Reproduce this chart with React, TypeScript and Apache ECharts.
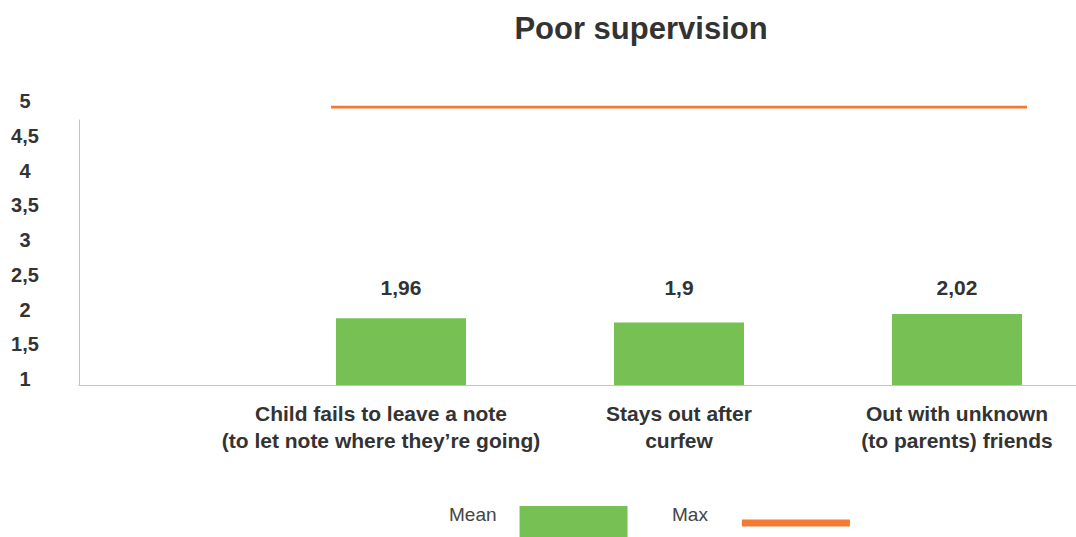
import React, { useEffect, useRef } from "react";
import * as echarts from "echarts";

const titleText = "Poor supervision";
const categories = [
  "Child fails to leave a note\n(to let note where they’re going)",
  "Stays out after\ncurfew",
  "Out with unknown\n(to parents) friends",
];
const meanValues = [1.96, 1.9, 2.02];
const maxValues = [5, 5, 5];
const yMin = 1;
const yMax = 5;
const yStep = 0.5;

const GREEN = "#77c154";
const ORANGE = "#f37a33";
const TEXT = "#333333";
const AXIS = "#c4c4c4";
const FONT = "'Liberation Sans', Arial, Helvetica, sans-serif";

const commaNumber = (v: number) => String(v).replace(".", ",");

export default function App() {
  const ref = useRef<HTMLDivElement>(null);

  useEffect(() => {
    if (!ref.current) return;
    const chart = echarts.init(ref.current, undefined, { renderer: "svg" });

    const gridTop = 107;
    const gridBottom = 152;

    const legendText = (padRight: number, padBottom: number) => ({
      fontFamily: FONT,
      fontSize: 19,
      color: "#444",
      rich: {
        t: {
          fontFamily: FONT,
          fontSize: 19,
          color: "#444",
          padding: [0, padRight, padBottom, 0],
        },
      },
    });

    chart.setOption({
      animation: false,
      backgroundColor: "#ffffff",
      textStyle: { fontFamily: FONT },
      title: {
        text: titleText,
        left: 636,
        top: 8,
        textAlign: "center",
        textStyle: { fontFamily: FONT, fontSize: 31, fontWeight: "bold", color: TEXT },
      },
      legend: [
        {
          data: [{ name: "Mean", icon: "rect" }],
          left: 449,
          top: 505,
          padding: 0,
          align: "right",
          itemWidth: 108,
          itemHeight: 31,
          selectedMode: false,
          formatter: (n: string) => `{t|${n}}`,
          textStyle: legendText(18, 14),
        },
        {
          data: [{ name: "Max", icon: "rect" }],
          left: 672,
          top: 505,
          padding: 0,
          align: "right",
          itemWidth: 108,
          itemHeight: 7,
          selectedMode: false,
          formatter: (n: string) => `{t|${n}}`,
          textStyle: legendText(29, 17),
        },
      ],
      grid: [
        // frame: the visible axis lines
        { left: 79, top: 120, width: 1020, bottom: gridBottom },
        // bars and value labels
        { left: 262, top: gridTop, width: 834, bottom: gridBottom },
        // max line
        { left: 331, top: gridTop, width: 696, bottom: gridBottom },
      ],
      xAxis: [
        {
          gridIndex: 0,
          type: "category",
          data: [""],
          axisLine: { show: true, lineStyle: { color: AXIS, width: 1 } },
          axisTick: { show: false },
          axisLabel: { show: false },
        },
        {
          gridIndex: 1,
          type: "category",
          data: categories.map((c, i) =>
            i === 0 ? { value: c, textStyle: { padding: [0, 40, 0, 0] } } : c
          ),
          boundaryGap: true,
          axisLine: { show: false },
          axisTick: { show: false },
          axisLabel: {
            interval: 0,
            margin: 15,
            fontFamily: FONT,
            fontSize: 21,
            fontWeight: "bold",
            lineHeight: 27,
            color: TEXT,
          },
        },
        {
          gridIndex: 2,
          type: "category",
          data: categories,
          boundaryGap: false,
          show: false,
        },
      ],
      yAxis: [
        {
          gridIndex: 0,
          type: "value",
          min: 0,
          max: 1,
          axisLine: { show: true, lineStyle: { color: AXIS, width: 1 } },
          axisTick: { show: false },
          axisLabel: { show: false },
          splitLine: { show: false },
        },
        {
          gridIndex: 1,
          type: "value",
          min: yMin,
          max: yMax,
          interval: yStep,
          startValue: yMin,
          axisLine: { show: false },
          axisTick: { show: false },
          splitLine: { show: false },
          axisLabel: {
            margin: 237,
            align: "center",
            verticalAlign: "bottom",
            lineHeight: 12,
            fontFamily: FONT,
            fontSize: 20,
            fontWeight: "bold",
            color: TEXT,
            formatter: (v: number) => commaNumber(v),
          },
        },
        {
          gridIndex: 2,
          type: "value",
          min: yMin,
          max: yMax,
          show: false,
        },
      ],
      series: [
        {
          name: "Mean",
          type: "bar",
          xAxisIndex: 1,
          yAxisIndex: 1,
          data: meanValues,
          barWidth: 130,
          itemStyle: { color: GREEN },
          label: {
            show: true,
            position: "insideBottom",
            offset: [0, -82],
            fontFamily: FONT,
            fontSize: 21,
            fontWeight: "bold",
            color: TEXT,
            formatter: (p: any) => commaNumber(p.value),
          },
        },
        {
          name: "Max",
          type: "line",
          xAxisIndex: 2,
          yAxisIndex: 2,
          data: maxValues,
          symbol: "none",
          lineStyle: { color: ORANGE, width: 3 },
          itemStyle: { color: ORANGE },
        },
      ],
    });

    return () => chart.dispose();
  }, []);

  return (
    <div
      ref={ref}
      style={{ position: "fixed", left: 0, top: 0, width: 1200, height: 537 }}
    />
  );
}
